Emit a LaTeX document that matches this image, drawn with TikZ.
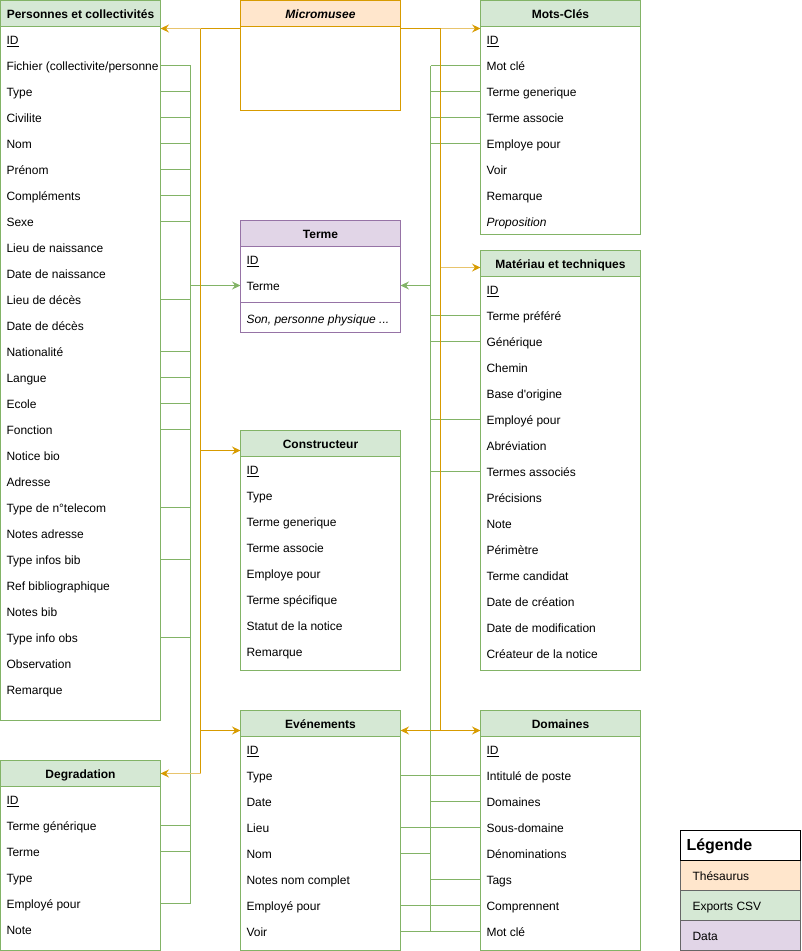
\documentclass[tikz,border=0pt]{standalone}
\usepackage{fontspec}
\setmainfont{Liberation Sans}[Ligatures=TeXOff]
\usetikzlibrary{arrows.meta}
\definecolor{gFill}{HTML}{D5E8D4}
\definecolor{gLine}{HTML}{82B366}
\definecolor{oFill}{HTML}{FFE6CC}
\definecolor{oLine}{HTML}{D79B00}
\definecolor{oLight}{HTML}{E8C46D}
\definecolor{pFill}{HTML}{E1D5E7}
\definecolor{pLine}{HTML}{9673A6}
\definecolor{legLine}{HTML}{666666}
\tikzset{
  tframe/.style={draw, fill=white, line width=1pt, minimum width=160pt, inner sep=0pt, outer sep=0pt, anchor=north west},
  thead/.style={draw, line width=1pt, minimum width=160pt, minimum height=26pt, inner sep=0pt, outer sep=0pt, anchor=north west, font=\fontsize{12pt}{14pt}\selectfont\bfseries, text height=12.5pt, text depth=2.5pt},
  trow/.style={anchor=west, inner sep=0pt, outer sep=0pt, font=\fontsize{12pt}{14pt}\selectfont, text height=12.5pt, text depth=2.5pt},
  gline/.style={draw=gLine, line width=1pt},
  garrow/.style={gline, -{Stealth[length=8.5pt,width=8pt,inset=3pt]}},
  oline/.style={draw=oLine, line width=1pt},
  olight/.style={draw=oLight, line width=1.5pt},
  oarrow/.style={-{Stealth[length=8.5pt,width=8pt,inset=3pt,color=oLine]}},
  legbox/.style={draw=legLine, line width=1pt, minimum width=120pt, minimum height=30pt, inner sep=0pt, outer sep=0pt, anchor=north west},
}
\newcommand\drawtbl[8]{%
  \node[tframe, draw=#6, minimum height=#4pt] (#1) at (#2,#3) {};
  \node[thead, fill=#5, draw=#6] (#1-h) at (#2,#3) {#7};
  \foreach \rt [count=\i] in {#8} {\node[trow] (#1-\i) at ({#2+6},{#3+39+26*(\i-1)}) {\rt};}
}
\begin{document}
\begin{tikzpicture}[x=1pt,y=-1pt]
\useasboundingbox (-0.5,-0.5) rectangle (800.5,950.5);

% tables
\drawtbl{pers}{0}{0}{720}{gFill}{gLine}{Personnes et collectivités}{{\underline{ID}},Fichier (collectivite/personne,Type,Civilite,Nom,Prénom,Compléments,Sexe,Lieu de naissance,Date de naissance,Lieu de décès,Date de décès,Nationalité,Langue,Ecole,Fonction,Notice bio,Adresse,Type de n°telecom,Notes adresse,Type infos bib,Ref bibliographique,Notes bib,Type info obs,Observation,Remarque}
\drawtbl{deg}{0}{760}{190}{gFill}{gLine}{Degradation}{{\underline{ID}},Terme générique,Terme,Type,Employé pour,Note}

\node[tframe, draw=oLine, minimum height=110pt] (micro) at (240,0) {};
\node[thead, fill=oFill, draw=oLine] (micro-h) at (240,0) {\itshape Micromusee};

\drawtbl{terme}{240}{220}{112}{pFill}{pLine}{Terme}{{\underline{ID}},Terme}
\draw[pLine, line width=1pt] (terme.north west) ++(0,82) coordinate (tsep) -- (tsep -| terme.east);
\node[trow] (terme-n) at (246,318) {\itshape Son, personne physique ...};

\drawtbl{cons}{240}{430}{240}{gFill}{gLine}{Constructeur}{{\underline{ID}},Type,Terme generique,Terme associe,Employe pour,Terme spécifique,Statut de la notice,Remarque}
\drawtbl{evt}{240}{710}{240}{gFill}{gLine}{Evénements}{{\underline{ID}},Type,Date,Lieu,Nom,Notes nom complet,Employé pour,Voir}
\drawtbl{mots}{480}{0}{234}{gFill}{gLine}{Mots-Clés}{{\underline{ID}},Mot clé,Terme generique,Terme associe,Employe pour,Voir,Remarque,{\itshape Proposition}}
\drawtbl{mat}{480}{250}{420}{gFill}{gLine}{Matériau et techniques}{{\underline{ID}},Terme préféré,Générique,Chemin,Base d'origine,Employé pour,Abréviation,Termes associés,Précisions,Note,Périmètre,Terme candidat,Date de création,Date de modification,Créateur de la notice}
\drawtbl{dom}{480}{710}{240}{gFill}{gLine}{Domaines}{{\underline{ID}},Intitulé de poste,Domaines,Sous-domaine,Dénominations,Tags,Comprennent,Mot clé}

% legend
\node[legbox, fill=oFill] (leg-1) at (680,860) {};
\node[legbox, fill=gFill] (leg-2) at (680,890) {};
\node[legbox, fill=pFill] (leg-3) at (680,920) {};
\node[legbox, draw=black, fill=white] (leg-h) at (680,830) {};
\node[trow, font=\fontsize{16pt}{19pt}\selectfont\bfseries] (leg-t) at (686,845) {Légende};
\node[trow] (leg-t1) at (692,875) {Thésaurus};
\node[trow] (leg-t2) at (692,905) {Exports CSV};
\node[trow] (leg-t3) at (692,935) {Data};

% bus coordinates
\coordinate (lbus) at (190,0);
\coordinate (rbus) at (430,0);
\coordinate (lob) at (200,28);
\coordinate (rob) at (440,28);
\coordinate (yCons) at (200,450);
\coordinate (yEvt) at (200,730);
\coordinate (yDeg) at (200,773);
\coordinate (yMat) at (440,267);
\coordinate (yDom) at (440,730);

% green connectors, left
\foreach \i in {2,3,4,5,6,7,8,11,13,14,15,16,19,21,24}
  \draw[gline] (pers-\i.west -| pers.east) -- (pers-\i.west -| lbus);
\foreach \i in {2,3,5}
  \draw[gline] (deg-\i.west -| deg.east) -- (deg-\i.west -| lbus);
\draw[gline] (lbus |- pers-2.west) -- (lbus |- deg-5.west);
\draw[garrow] (lbus |- terme-2.west) -- (terme-2.west -| terme.west);

% green connectors, right
\foreach \i in {2,3,4,5}
  \draw[gline] (mots-\i.west -| mots.west) -- (mots-\i.west -| rbus);
\foreach \i in {2,3,6,8}
  \draw[gline] (mat-\i.west -| mat.west) -- (mat-\i.west -| rbus);
\foreach \i in {3,6}
  \draw[gline] (dom-\i.west -| dom.west) -- (dom-\i.west -| rbus);
\foreach \i in {2,4,7,8}
  \draw[gline] (evt-\i.west -| evt.east) -- (dom-\i.west -| dom.west);
\draw[gline] (evt-5.west -| evt.east) -- (evt-5.west -| rbus);
\draw[gline] (rbus |- mots-2.west) -- (rbus |- dom-8.west);
\draw[garrow] (rbus |- terme-2.west) -- (terme-2.west -| terme.east);

% orange connectors, left
\draw[oline] (micro.west |- lob) -- (lob) -- (yDeg);
\draw[olight, oarrow] (lob) -- (lob -| pers.east);
\draw[oline, oarrow] (yCons) -- (yCons -| cons.west);
\draw[oline, oarrow] (yEvt) -- (yEvt -| evt.west);
\draw[olight, oarrow] (yDeg) -- (yDeg -| deg.east);

% orange connectors, right
\draw[oline] (micro.east |- rob) -- (rob) -- (yDom);
\draw[olight, oarrow] (rob) -- (rob -| mots.west);
\draw[olight, oarrow] (yMat) -- (yMat -| mat.west);
\draw[oline, oarrow] (yDom) -- (yDom -| dom.west);
\draw[oline, oarrow] (yDom) -- (yDom -| evt.east);
\end{tikzpicture}
\end{document}
